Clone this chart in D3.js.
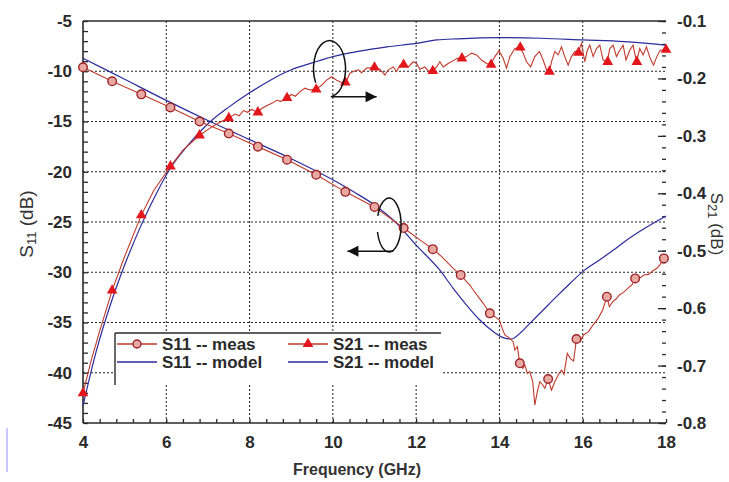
<!DOCTYPE html>
<html>
<head>
<meta charset="UTF-8">
<title>S11 / S21 vs Frequency</title>
<script src="https://d3js.org/d3.v7.min.js"></script>
<style>
  body { margin: 0; background: #fff; }
  svg { display: block; font-family: "Liberation Sans", Arial, sans-serif; }
  .tick text { font-size: 17px; font-weight: bold; fill: #2a2a2a; }
  .grid line { stroke: #222; stroke-dasharray: 2,2; stroke-width: 1; }
</style>
</head>
<body>
<div id="chart"></div>
<script>
// axis ticks
const freqTicks = [4, 6, 8, 10, 12, 14, 16, 18];
const s11Ticks = [-5, -10, -15, -20, -25, -30, -35, -40, -45];
const s21Ticks = [-0.1, -0.2, -0.3, -0.4, -0.5, -0.6, -0.7, -0.8];

// S11 measured [GHz, dB]
const s11Meas = [
  [4.0,-9.6],[4.7,-11.0],[5.4,-12.3],[6.1,-13.6],[6.8,-15.0],[7.5,-16.2],[8.2,-17.5],
  [8.9,-18.8],[9.6,-20.3],[10.3,-22.0],[11.0,-23.5],[11.7,-25.6],[12.1,-26.8],[12.4,-27.7],
  [12.57,-28.28],[12.73,-28.95],[12.89,-29.61],[13.07,-30.27],[13.21,-30.94],[13.29,-31.27],
  [13.37,-31.77],[13.49,-32.43],[13.61,-33.09],[13.77,-34.09],[13.89,-34.42],[14.0,-34.75],
  [14.05,-35.41],[14.13,-36.24],[14.25,-36.58],[14.33,-36.91],[14.37,-37.74],[14.43,-37.41],
  [14.49,-39.06],[14.56,-39.56],[14.61,-39.23],[14.67,-40.06],[14.73,-39.89],[14.8,-40.89],
  [14.85,-43.21],[14.91,-41.88],[14.97,-40.89],[15.04,-41.22],[15.09,-41.55],[15.17,-40.62],
  [15.25,-41.72],[15.33,-40.89],[15.41,-40.22],[15.49,-39.73],[15.55,-40.16],[15.63,-38.07],
  [15.71,-38.63],[15.78,-38.83],[15.85,-36.64],[15.94,-36.91],[16.02,-36.24],[16.14,-35.91],
  [16.22,-35.41],[16.3,-34.98],[16.37,-34.59],[16.48,-33.76],[16.58,-32.43],[16.64,-33.43],
  [16.72,-32.93],[16.8,-32.66],[16.88,-32.26],[16.98,-32.0],[17.1,-31.53],[17.18,-31.27],
  [17.26,-30.61],[17.38,-30.54],[17.47,-30.27],[17.58,-30.21],[17.68,-29.88],[17.78,-29.61],
  [17.86,-29.21],[17.95,-28.62]
];
const s11MeasMarks = [
  [4.0,-9.6],[4.7,-11.0],[5.4,-12.3],[6.1,-13.6],[6.8,-15.0],[7.5,-16.2],[8.2,-17.5],
  [8.9,-18.8],[9.6,-20.3],[10.3,-22.0],[11.0,-23.5],[11.7,-25.6],[12.4,-27.7],[13.07,-30.27],
  [13.77,-34.09],[14.49,-39.06],[15.17,-40.62],[15.85,-36.64],[16.58,-32.43],[17.26,-30.61],
  [17.95,-28.62]
];
// S11 model
const s11Model = [
  [4.0,-8.7],[5.0,-10.8],[6.0,-12.9],[7.0,-14.9],[8.0,-16.8],[9.0,-18.7],[10.0,-20.8],
  [10.5,-22.0],[11.0,-23.3],[11.5,-25.0],[12.0,-27.3],[12.57,-29.8],[12.89,-31.6],
  [13.21,-33.26],[13.53,-34.75],[13.85,-35.9],[14.09,-36.5],[14.29,-36.64],[14.49,-36.08],
  [14.73,-35.08],[15.05,-33.76],[15.37,-32.43],[15.7,-31.1],[16.0,-29.94],[16.34,-28.95],
  [16.74,-27.79],[17.06,-26.79],[17.5,-25.6],[18.0,-24.4]
];

// S21 measured [GHz, dB]
const s21Meas = [
  [4.0,-0.748],[4.2,-0.69],[4.4,-0.64],[4.7,-0.569],[5.0,-0.51],[5.4,-0.438],[5.7,-0.395],
  [6.1,-0.353],[6.4,-0.325],[6.8,-0.299],[7.1,-0.284],[7.3,-0.276],[7.5,-0.269],[7.65,-0.262],
  [7.75,-0.265],[7.85,-0.256],[7.95,-0.259],[8.05,-0.254],[8.18,-0.259],[8.3,-0.252],
  [8.42,-0.247],[8.55,-0.243],[8.65,-0.238],[8.75,-0.24],[8.9,-0.234],[9.0,-0.228],
  [9.1,-0.231],[9.21,-0.223],[9.33,-0.217],[9.45,-0.22],[9.59,-0.219],[9.73,-0.212],
  [9.85,-0.203],[9.97,-0.197],[10.09,-0.203],[10.21,-0.207],[10.31,-0.207],[10.41,-0.191],
  [10.49,-0.188],[10.61,-0.185],[10.69,-0.19],[10.81,-0.182],[10.99,-0.181],[11.13,-0.184],
  [11.25,-0.194],[11.33,-0.185],[11.45,-0.18],[11.53,-0.188],[11.61,-0.177],[11.71,-0.176],
  [11.81,-0.18],[11.93,-0.171],[12.01,-0.174],[12.09,-0.184],[12.21,-0.18],[12.29,-0.187],
  [12.4,-0.187],[12.49,-0.18],[12.57,-0.171],[12.65,-0.18],[12.77,-0.174],[12.89,-0.169],
  [12.99,-0.165],[13.09,-0.165],[13.21,-0.162],[13.33,-0.156],[13.45,-0.159],[13.57,-0.168],
  [13.69,-0.174],[13.79,-0.176],[13.89,-0.162],[13.99,-0.152],[14.09,-0.165],[14.17,-0.182],
  [14.25,-0.162],[14.37,-0.148],[14.49,-0.146],[14.57,-0.156],[14.65,-0.171],[14.75,-0.18],
  [14.85,-0.162],[14.96,-0.153],[15.05,-0.168],[15.13,-0.185],[15.2,-0.188],[15.25,-0.171],
  [15.33,-0.153],[15.41,-0.159],[15.49,-0.145],[15.57,-0.162],[15.65,-0.177],[15.73,-0.162],
  [15.81,-0.153],[15.89,-0.155],[15.97,-0.139],[16.05,-0.171],[16.11,-0.151],[16.17,-0.142],
  [16.25,-0.162],[16.33,-0.148],[16.41,-0.142],[16.49,-0.168],[16.59,-0.171],[16.65,-0.148],
  [16.73,-0.142],[16.81,-0.162],[16.89,-0.151],[16.97,-0.142],[17.04,-0.168],[17.13,-0.151],
  [17.21,-0.142],[17.29,-0.171],[17.37,-0.148],[17.45,-0.159],[17.53,-0.145],[17.62,-0.165],
  [17.7,-0.177],[17.78,-0.162],[17.86,-0.151],[17.98,-0.15]
];
const s21MeasMarks = [
  [4.0,-0.748],[4.7,-0.569],[5.4,-0.438],[6.1,-0.353],[6.8,-0.299],[7.5,-0.269],[8.2,-0.259],
  [8.9,-0.234],[9.6,-0.219],[10.3,-0.207],[11.0,-0.181],[11.7,-0.176],[12.4,-0.187],
  [13.1,-0.165],[13.8,-0.176],[14.5,-0.146],[15.2,-0.188],[15.9,-0.155],[16.6,-0.171],
  [17.3,-0.171],[18.0,-0.15]
];
// S21 model
const s21Model = [
  [4.0,-0.77],[4.3,-0.68],[4.7,-0.585],[5.0,-0.525],[5.4,-0.455],[5.8,-0.395],[6.1,-0.356],
  [6.5,-0.318],[7.0,-0.279],[7.5,-0.25],[8.0,-0.225],[8.5,-0.203],[9.0,-0.185],[9.5,-0.173],
  [10.0,-0.162],[10.6,-0.153],[11.3,-0.145],[12.0,-0.139],[12.5,-0.133],[13.0,-0.131],
  [14.0,-0.129],[15.0,-0.13],[16.0,-0.133],[17.0,-0.136],[18.0,-0.142]
];

const width = 729, height = 482;
const redLine = "#c0392b", redMark = "#e3161b", blue = "#2b2b9c", ink = "#2a2a2a";

const svg = d3.select("#chart").append("svg")
    .attr("width", width).attr("height", height);

const x = d3.scaleLinear().domain([4, 18]).range([83, 666]);
const yL = d3.scaleLinear().domain([-45, -5]).range([423, 21]);
const yR = d3.scaleLinear().domain([-0.8, -0.1]).range([423, 21]);

// scan artefact at far left
svg.append("line").attr("x1", 7).attr("x2", 7).attr("y1", 428).attr("y2", 472)
    .attr("stroke", "#c9c9ff").attr("stroke-width", 2);

// grid
const grid = svg.append("g").attr("class", "grid");
grid.selectAll(".gx").data(freqTicks.slice(1, -1)).join("line")
    .attr("x1", d => x(d)).attr("x2", d => x(d)).attr("y1", 423).attr("y2", 21);
grid.selectAll(".gy").data(s11Ticks.slice(1, -1)).join("line")
    .attr("x1", 83).attr("x2", 666).attr("y1", d => yL(d)).attr("y2", d => yL(d));

// axes
const fmt = d => String(d);
svg.append("g").attr("transform", "translate(0,423)")
    .call(d3.axisBottom(x).tickValues(freqTicks).tickSize(0).tickPadding(13).tickFormat(fmt));
svg.append("g").attr("transform", "translate(0,423)")
    .call(d3.axisBottom(x).tickValues(d3.range(4, 18.01, 0.4)).tickSize(-4).tickFormat(""));
svg.append("g").attr("transform", "translate(83,0)")
    .call(d3.axisLeft(yL).tickValues(s11Ticks).tickSize(0).tickPadding(11).tickFormat(fmt));
svg.append("g").attr("transform", "translate(83,0)")
    .call(d3.axisLeft(yL).tickValues(d3.range(-45, -4.99, 1)).tickSize(-5).tickFormat(""));
svg.append("g").attr("transform", "translate(666,0)")
    .call(d3.axisRight(yR).tickValues(s21Ticks).tickSize(-8).tickPadding(11).tickFormat(d => d.toFixed(1)));
svg.append("g").attr("transform", "translate(666,0)")
    .call(d3.axisRight(yR).tickValues(d3.range(-0.8, -0.099, 0.02)).tickSize(-4).tickFormat(""));
svg.selectAll(".domain").remove();
svg.selectAll(".tick line").attr("stroke", ink).attr("stroke-width", 1.3);

// frame lines
const frame = svg.append("g").attr("stroke", ink).attr("stroke-width", 1.6);
frame.append("line").attr("x1", 83).attr("x2", 83).attr("y1", 21).attr("y2", 423);
frame.append("line").attr("x1", 83).attr("x2", 666).attr("y1", 423).attr("y2", 423);
frame.append("line").attr("x1", 83).attr("x2", 666).attr("y1", 21).attr("y2", 21);

// curves
const lineL = d3.line().x(d => x(d[0])).y(d => yL(d[1]));
const lineR = d3.line().x(d => x(d[0])).y(d => yR(d[1]));
const smoothL = d3.line().x(d => x(d[0])).y(d => yL(d[1])).curve(d3.curveMonotoneX);
const smoothR = d3.line().x(d => x(d[0])).y(d => yR(d[1])).curve(d3.curveMonotoneX);

svg.append("path").attr("d", smoothL(s11Model)).attr("fill", "none")
    .attr("stroke", blue).attr("stroke-width", 1.2);
svg.append("path").attr("d", smoothR(s21Model)).attr("fill", "none")
    .attr("stroke", blue).attr("stroke-width", 1.2);
svg.append("path").attr("d", lineL(s11Meas)).attr("fill", "none")
    .attr("stroke", redLine).attr("stroke-width", 1.1);
svg.append("path").attr("d", lineR(s21Meas)).attr("fill", "none")
    .attr("stroke", redLine).attr("stroke-width", 1.1);

const tri = d3.symbol(d3.symbolTriangle).size(50);
svg.append("g").selectAll("path").data(s21MeasMarks).join("path")
    .attr("d", tri).attr("transform", d => `translate(${x(d[0])},${yR(d[1])})`)
    .attr("fill", redMark);
svg.append("g").selectAll("circle").data(s11MeasMarks).join("circle")
    .attr("cx", d => x(d[0])).attr("cy", d => yL(d[1])).attr("r", 4.3)
    .attr("fill", "#e9a9a3").attr("stroke", "#9e2429").attr("stroke-width", 1.4);

// annotation loops with arrows
const defs = svg.append("defs");
defs.append("marker").attr("id", "arr").attr("viewBox", "0 0 10 10")
    .attr("refX", 10).attr("refY", 5).attr("markerWidth", 13).attr("markerHeight", 11)
    .attr("markerUnits", "userSpaceOnUse").attr("orient", "auto")
    .append("path").attr("d", "M0,0L10,5L0,10z").attr("fill", "#111");

function loop(cx, cy, rx, ry, a0, a1) {
  const p = a => [cx + rx * Math.cos(a * Math.PI / 180), cy + ry * Math.sin(a * Math.PI / 180)];
  const s = p(a0), e = p(a1);
  const large = ((a1 - a0 + 360) % 360) > 180 ? 1 : 0;
  return `M${s[0]},${s[1]}A${rx},${ry} 0 ${large} 1 ${e[0]},${e[1]}`;
}
const ann = svg.append("g").attr("fill", "none").attr("stroke", "#111").attr("stroke-width", 1.5);
// S21 -> right axis
ann.append("path").attr("d", loop(x(9.92), yR(-0.183), 16, 28, 150, 80));
ann.append("line").attr("x1", x(9.95)).attr("x2", x(11.05))
    .attr("y1", yR(-0.232)).attr("y2", yR(-0.232)).attr("marker-end", "url(#arr)");
// S11 -> left axis
ann.append("path").attr("d", loop(x(11.35), yL(-25.3), 12, 27, 200, 165));
ann.append("line").attr("x1", x(11.45)).attr("x2", x(10.35))
    .attr("y1", yL(-27.9)).attr("y2", yL(-27.9)).attr("marker-end", "url(#arr)");

// legend
const leg = svg.append("g");
leg.append("rect").attr("x", 115).attr("y", 333).attr("width", 326).attr("height", 52).attr("fill", "#fff");
leg.append("line").attr("x1", 115).attr("x2", 441).attr("y1", 333).attr("y2", 333).attr("stroke", ink).attr("stroke-width", 1.4);
leg.append("line").attr("x1", 115).attr("x2", 115).attr("y1", 333).attr("y2", 385).attr("stroke", ink).attr("stroke-width", 1.4);
const items = [
  { label: "S11 -- meas", color: redLine, mark: "circle", col: 0, row: 0 },
  { label: "S21 -- meas", color: redLine, mark: "tri", col: 1, row: 0 },
  { label: "S11 -- model", color: blue, mark: null, col: 0, row: 1 },
  { label: "S21 -- model", color: blue, mark: null, col: 1, row: 1 }
];
items.forEach(it => {
  const x0 = it.col ? 288 : 117, yy = it.row ? 362 : 344;
  leg.append("line").attr("x1", x0).attr("x2", x0 + 40).attr("y1", yy).attr("y2", yy)
      .attr("stroke", it.color).attr("stroke-width", 1.4);
  if (it.mark === "circle") {
    leg.append("circle").attr("cx", x0 + 20).attr("cy", yy).attr("r", 4)
        .attr("fill", "#e9a9a3").attr("stroke", "#9e2429").attr("stroke-width", 1.4);
  } else if (it.mark === "tri") {
    leg.append("path").attr("d", tri).attr("transform", `translate(${x0 + 20},${yy})`).attr("fill", redMark);
  }
  leg.append("text").attr("x", x0 + 45).attr("y", yy + 6).text(it.label)
      .attr("font-size", 17).attr("font-weight", "bold").attr("fill", ink);
});

// axis titles
svg.append("text").attr("x", 357).attr("y", 475).attr("text-anchor", "middle")
    .attr("font-size", 16).attr("font-weight", "bold").attr("fill", "#333").text("Frequency (GHz)");
const tl = svg.append("text").attr("transform", "translate(33,224) rotate(-90)")
    .attr("text-anchor", "middle").attr("font-size", 19).attr("fill", "#333");
tl.append("tspan").text("S");
tl.append("tspan").attr("font-size", 13).attr("dy", 3).text("11");
tl.append("tspan").attr("dy", -3).text(" (dB)");
const tr = svg.append("text").attr("transform", "translate(711,224) rotate(90)")
    .attr("text-anchor", "middle").attr("font-size", 17).attr("fill", "#333");
tr.append("tspan").text("S");
tr.append("tspan").attr("font-size", 13).attr("dy", 3).text("21");
tr.append("tspan").attr("dy", -3).text(" (dB)");
</script>
</body>
</html>
